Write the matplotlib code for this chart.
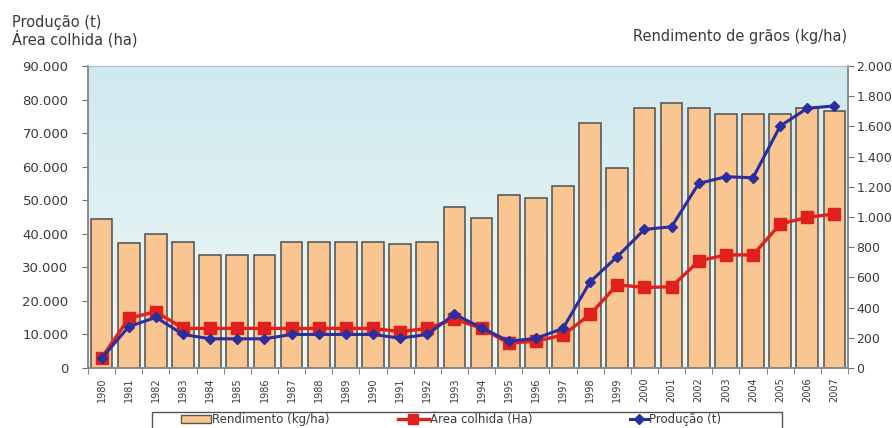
import matplotlib
matplotlib.use('Agg')
import matplotlib.pyplot as plt
import numpy as np
from matplotlib.lines import Line2D
from matplotlib.patches import Patch, Rectangle
from matplotlib.ticker import FuncFormatter, FixedLocator

plt.rcParams['font.family'] = ['DejaVu Sans']

anos = [str(a) for a in range(1980, 2008)]

# rendimento de grãos (kg/ha) - barras, eixo direito
rendimento = [990, 828, 887, 834, 750, 750, 750, 832, 832, 832, 832, 819, 832,
              1066, 993, 1148, 1126, 1203, 1620, 1327, 1720, 1757, 1724, 1682,
              1682, 1682, 1720, 1704]

# área colhida (ha) - eixo esquerdo
area = [3000, 14800, 16800, 11800, 11800, 11800, 11800, 11800, 11800, 11800,
        11800, 10800, 11800, 14600, 11800, 7400, 8000, 9800, 16000, 24800,
        24000, 24200, 31900, 33700, 33700, 42900, 44900, 45900]

# produção (t) - eixo esquerdo
producao = [2900, 12300, 15100, 10000, 8700, 8700, 8700, 10000, 10000, 10000,
            10000, 8900, 10000, 16000, 12000, 8000, 8800, 11800, 25700, 33200,
            41300, 42100, 55000, 57000, 56700, 72100, 77400, 78100]

texto = '#3a3a3a'
cor_barra = '#f9c591'
cor_area = '#e0201c'
cor_prod = '#2b2e9e'
x = np.arange(len(anos))

fig = plt.figure(figsize=(8.92, 4.28), dpi=100)
ax = fig.add_axes([0.0987, 0.1402, 0.852, 0.7056])
ax2 = ax.twinx()
ax.set_zorder(ax2.get_zorder() + 1)
ax.patch.set_visible(False)

# fundo em degradê azul claro
grad = np.linspace(0, 1, 256)[:, None]
topo = np.array([0.81, 0.915, 0.94])
base = np.array([0.94, 0.97, 0.96])
cores = (topo + (base - topo) * grad).reshape(256, 1, 3)
ax2.imshow(cores, aspect='auto', extent=[0, 1, 0, 1],
           transform=ax2.transAxes, zorder=0)

ax2.bar(x, rendimento, width=0.8, color=cor_barra, edgecolor='#4f4f4f',
        linewidth=1.1, zorder=2)
ax.plot(x, area, color=cor_area, lw=2.4, marker='s', ms=8, zorder=3)
ax.plot(x, producao, color=cor_prod, lw=2.2, marker='D', ms=5.5, zorder=4)

ax.set_xlim(-0.5, len(anos) - 0.5)
ax.set_ylim(0, 90000)
ax2.set_ylim(0, 2000)
ax.set_yticks(np.arange(0, 90001, 10000))
ax2.set_yticks(np.arange(0, 2001, 200))

milhar = FuncFormatter(lambda v, p: f'{v:,.0f}'.replace(',', '.'))
ax.yaxis.set_major_formatter(milhar)
ax2.yaxis.set_major_formatter(milhar)

ax.set_xticks(x)
ax.set_xticklabels(anos, rotation=90, fontsize=7, color=texto)
ax.xaxis.set_minor_locator(FixedLocator(np.arange(-0.5, len(anos), 1)))
ax.tick_params(axis='x', which='major', length=0, pad=7)
ax.tick_params(axis='x', which='minor', length=4, color='#707070')
ax.tick_params(axis='y', labelsize=9.5, labelcolor=texto, length=4,
               color='#707070', pad=10)
ax2.tick_params(axis='y', labelsize=9, labelcolor=texto, length=4,
                color='#707070', pad=2)

for a in (ax, ax2):
    for sp in a.spines.values():
        sp.set_color('#8a8a8a')
        sp.set_linewidth(1.2)
    a.spines['top'].set_color('#a8c4cc')
    a.spines['top'].set_linewidth(0.8)

fig.text(0.013, 0.965, 'Produção (t)\nÁrea colhida (ha)', ha='left', va='top',
         fontsize=10.5, color=texto, linespacing=1.0)
fig.text(0.9496, 0.9136, 'Rendimento de grãos (kg/ha)', ha='right',
         va='center', fontsize=10.5, color=texto)

# legenda: moldura única com três entradas
fig.add_artist(Rectangle((0.1705, -0.02), 0.7063, 0.057,
                         transform=fig.transFigure, facecolor='white',
                         edgecolor='#555555', linewidth=1.0, zorder=5))
entradas = [
    (Patch(facecolor=cor_barra, edgecolor='#555555', linewidth=1.0),
     'Rendimento (kg/ha)', 0.2029, 2.5),
    (Line2D([], [], color=cor_area, lw=2.4, marker='s', ms=7),
     'Área colhida (Ha)', 0.4462, 2.6),
    (Line2D([], [], color=cor_prod, lw=2.2, marker='D', ms=5),
     'Produção (t)', 0.7063, 1.5),
]
for h, rotulo, x0, comp in entradas:
    leg = fig.legend([h], [rotulo], loc='center left',
                     bbox_to_anchor=(x0, 0.0187), frameon=False,
                     fontsize=8.5, borderpad=0, borderaxespad=0,
                     handlelength=comp, handletextpad=0.1)
    leg.set_zorder(6)
    for t in leg.get_texts():
        t.set_color(texto)

fig.savefig('out.png', dpi=100)
